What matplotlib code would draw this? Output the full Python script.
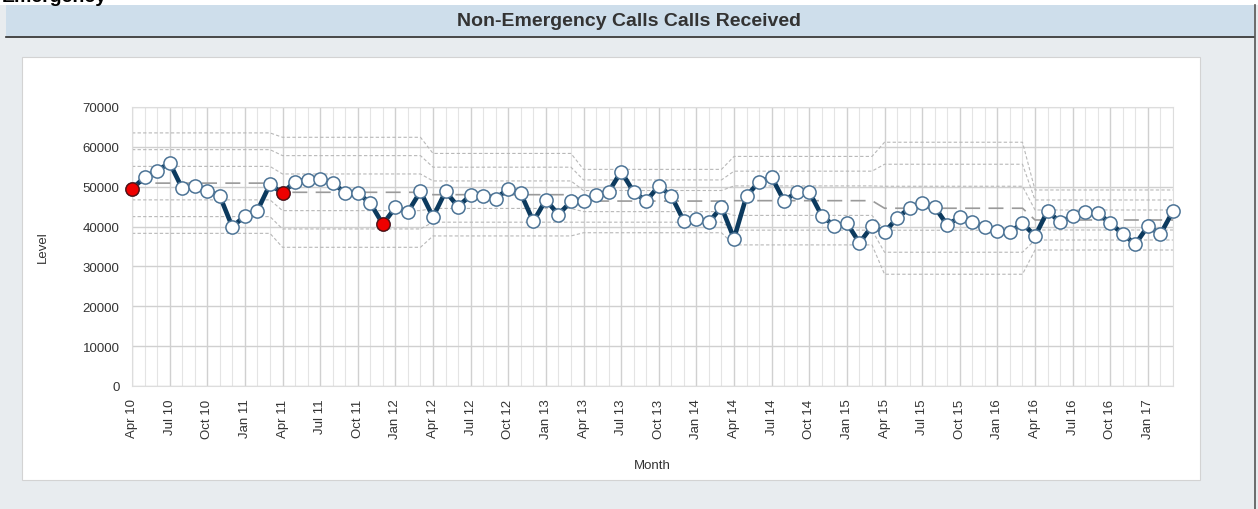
import numpy as np
import pandas as pd
import matplotlib
matplotlib.use('Agg')
import matplotlib.pyplot as plt
from matplotlib.patches import Rectangle
from matplotlib.lines import Line2D

# monthly calls received, Apr 2010 .. Mar 2017
months = pd.date_range('2010-04-01', periods=84, freq='MS')
calls = [49400, 52400, 54000, 56000, 49600, 50200, 49000, 47700, 39900, 42700, 44000, 50600,
         48400, 51300, 51800, 52000, 50900, 48500, 48400, 45900, 40600, 44800, 43700, 48800,
         42400, 48800, 45000, 47900, 47700, 47000, 49500, 48300, 41300, 46700, 43000, 46300,
         46300, 47900, 48700, 53800, 48700, 46400, 50200, 47700, 41400, 41900, 41100, 44900,
         37000, 47700, 51200, 52400, 46400, 48700, 48700, 42700, 40200, 40900, 35900, 40100,
         38600, 42100, 44700, 45900, 44900, 40400, 42400, 41100, 39900, 38900, 38600, 40900,
         37600, 43900, 41100, 42700, 43700, 43400, 40900, 38100, 35600, 40100, 38100, 43900]
flagged = [0, 12, 20]

# control limit periods (one per year), centre line and sigma
seg_start = [0, 12, 24, 36, 48, 60, 72]
seg_centre = [50900, 48600, 48000, 46400, 46500, 44600, 41650]
seg_sigma = [4200, 4600, 3450, 2650, 3700, 5520, 2510]

W, H = 1258, 510
fig = plt.figure(figsize=(W / 100, H / 100), dpi=100)
fig.patch.set_facecolor('#e8ecef')
plt.rcParams['font.family'] = ['Liberation Sans', 'DejaVu Sans']


def px_rect(x0, y0, x1, y1, **kw):
    r = Rectangle((x0 / W, 1 - y1 / H), (x1 - x0) / W, (y1 - y0) / H,
                  transform=fig.transFigure, **kw)
    fig.add_artist(r)


# header band + card
px_rect(0, 0, W, 6, facecolor='white', edgecolor='none', zorder=0)
px_rect(6, 6, 1254, 37, facecolor='#cedeeb', edgecolor='none', zorder=0)
fig.add_artist(Line2D([6 / W, 1254 / W], [1 - 37.5 / H] * 2, color='#2b2b2b', lw=1.2,
                      transform=fig.transFigure))
fig.add_artist(Line2D([1254.5 / W] * 2, [0, 1 - 6 / H], color='#555555', lw=1.2,
                      transform=fig.transFigure))
px_rect(22, 58, 1200, 481, facecolor='white', edgecolor='#d3d3d3', lw=0.8, zorder=0)
fig.text(629 / W, 1 - 22 / H, 'Non-Emergency Calls Calls Received', ha='center', va='center',
         fontsize=14, fontweight='bold', color='#333333')
# heading of the page above, mostly scrolled out of view
fig.text(2 / W, 1 + 3 / H, 'Emergency', ha='left', va='center', fontsize=14,
         fontweight='bold', color='black')

ax = fig.add_axes([132 / W, 1 - 387 / H, (1173 - 132) / W, (387 - 108) / H])
ax.set_facecolor('white')

x = np.arange(len(calls))

# control lines
centre = np.zeros(len(calls))
sigma = np.zeros(len(calls))
for k, s in enumerate(seg_start):
    e = seg_start[k + 1] if k + 1 < len(seg_start) else len(calls)
    centre[s:e] = seg_centre[k]
    sigma[s:e] = seg_sigma[k]

for m in [-3, -2, -1, 1, 2, 3]:
    ax.plot(x, centre + m * sigma, color='#b8b8b8', lw=0.8, dashes=(3, 2), zorder=2)
ax.plot(x, centre, color='#9a9a9a', lw=1.2, dashes=(9, 5), zorder=2)

# data
ax.plot(x, calls, color='#0c3a5e', lw=3.3, zorder=3, clip_on=False)
ax.plot(x, calls, ls='none', marker='o', ms=9.5, mfc='white', mec='#4d7496', mew=1.1,
        zorder=4, clip_on=False)
ax.plot([x[i] for i in flagged], [calls[i] for i in flagged], ls='none', marker='o', ms=9.5,
        mfc='#ee0000', mec='#5a1010', mew=1.0, zorder=5, clip_on=False)

ax.set_xlim(0, len(calls) - 1)
ax.set_ylim(0, 70000)
ax.set_yticks(range(0, 70001, 10000))
ax.set_yticklabels([str(v) for v in range(0, 70001, 10000)])
qtr = [i for i in x if months[i].month in (1, 4, 7, 10)]
ax.set_xticks(qtr)
ax.set_xticklabels([months[i].strftime('%b %y') for i in qtr], rotation=90)
ax.set_xticks(x, minor=True)
ax.grid(which='major', color='#d0d0d0', lw=1.0, zorder=0)
ax.grid(which='minor', axis='x', color='#e4e4e4', lw=0.8, zorder=0)
ax.set_axisbelow(True)
for sp in ax.spines.values():
    sp.set_color('#dddddd')
ax.tick_params(which='both', length=0, colors='#333333', labelsize=9.5, pad=9)
ax.set_ylabel('Level', fontsize=9.5, color='#333333', labelpad=24)
ax.set_xlabel('Month', fontsize=9.5, color='#333333', labelpad=15)

fig.savefig('out.png', dpi=100, facecolor=fig.get_facecolor())
